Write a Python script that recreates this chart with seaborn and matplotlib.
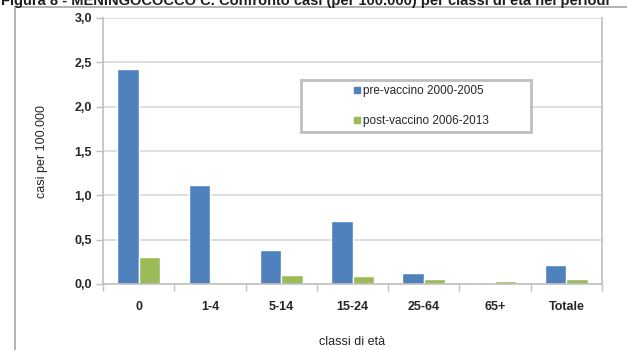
import pandas as pd
import matplotlib
matplotlib.use("Agg")
import matplotlib.pyplot as plt
from matplotlib.patches import Rectangle
from matplotlib.lines import Line2D
import seaborn as sns

categories = ["0", "1-4", "5-14", "15-24", "25-64", "65+", "Totale"]
pre_vaccino = [2.43, 1.12, 0.38, 0.71, 0.12, 0.0, 0.21]
post_vaccino = [0.31, 0.0, 0.10, 0.09, 0.06, 0.03, 0.06]
series_names = ["pre-vaccino 2000-2005", "post-vaccino 2006-2013"]
y_ticks = [0.0, 0.5, 1.0, 1.5, 2.0, 2.5, 3.0]
y_tick_labels = ["0,0", "0,5", "1,0", "1,5", "2,0", "2,5", "3,0"]
title = "Figura 8 - MENINGOCOCCO C. Confronto casi (per 100.000) per classi di età nei periodi"

df = pd.DataFrame({
    "classe": categories * 2,
    "valore": pre_vaccino + post_vaccino,
    "periodo": [series_names[0]] * len(categories) + [series_names[1]] * len(categories),
})

sns.set_style("white")
plt.rcParams["font.family"] = ["Liberation Sans Narrow", "Liberation Sans", "DejaVu Sans"]

fig = plt.figure(figsize=(6.27, 3.5), dpi=100)
W, H = 627, 350
ax = fig.add_axes([103 / W, 1 - 284 / H, (602 - 103) / W, (284 - 18) / H])

palette = {series_names[0]: "#4F81BD", series_names[1]: "#9BBB59"}
sns.barplot(data=df, x="classe", y="valore", hue="periodo", palette=palette,
            width=0.6, gap=0, ax=ax, legend=False, saturation=1)

ax.set_ylim(0, 3.0)
ax.set_xlim(-0.5, len(categories) - 0.5)
ax.set_yticks(y_ticks)
ax.set_yticklabels(y_tick_labels)
ax.yaxis.grid(True, color="#D9D9D9", linewidth=1.2)
ax.set_axisbelow(True)

for side in ["left", "bottom", "right"]:
    ax.spines[side].set_visible(True)
    ax.spines[side].set_color("#BFBFBF")
    ax.spines[side].set_linewidth(1.2)
ax.spines["top"].set_visible(False)

# ticks: y outward on left, x between categories
ax.tick_params(axis="y", which="major", left=True, length=5, width=1, color="#BFBFBF",
               labelsize=9, pad=3)
ax.set_xticks(range(len(categories)))
ax.set_xticklabels(categories)
ax.tick_params(axis="x", which="major", bottom=False, labelsize=9, pad=9)
ax.set_xticks([i - 0.5 for i in range(len(categories) + 1)], minor=True)
ax.tick_params(axis="x", which="minor", bottom=True, length=5, width=1, color="#BFBFBF")
for lab in ax.get_xticklabels() + ax.get_yticklabels():
    lab.set_fontweight("bold")
    lab.set_color("#262626")

ax.set_xlabel("classi di età", fontsize=9, color="#262626", va="center")
ax.xaxis.set_label_coords(0.5, -(342 - 284) / 266)
ax.set_ylabel("casi per 100.000", fontsize=9, color="#262626", va="center")
ax.yaxis.set_label_coords(-(103 - 42) / 499, 0.5)

# legend box
x0, x1 = (301 - 103) / 499, (531 - 103) / 499
y0, y1 = (284 - 132) / 266, (284 - 80) / 266
ax.add_patch(Rectangle((x0, y0), x1 - x0, y1 - y0, transform=ax.transAxes,
                       facecolor="white", edgecolor="#BFBFBF", linewidth=2, zorder=5))
handles = [Line2D([], [], marker="s", linestyle="", markersize=5,
                  markerfacecolor=palette[n], markeredgecolor=palette[n]) for n in series_names]
leg = ax.legend(handles, series_names, loc="center",
                bbox_to_anchor=((x0 + x1) / 2 + 0.01, (y0 + y1) / 2), frameon=False,
                fontsize=8.5, handlelength=0.6, handletextpad=0.2, labelspacing=1.5,
                borderpad=0)
leg.set_zorder(6)
for t in leg.get_texts():
    t.set_color("#262626")

# outer chart frame and title (cropped at the top, as in the source)
fig.add_artist(Line2D([15 / W, 15 / W], [0, 1 - 7 / H], color="#A6A6A6", linewidth=1.2))
fig.add_artist(Line2D([15 / W, 1], [1 - 7 / H, 1 - 7 / H], color="#A6A6A6", linewidth=1.2))
fig.text(1 / W, 1 - 5 / H, title, fontsize=10.5, fontweight="bold", color="#1F1F1F",
         ha="left", va="baseline")

fig.savefig("out.png", dpi=100)
